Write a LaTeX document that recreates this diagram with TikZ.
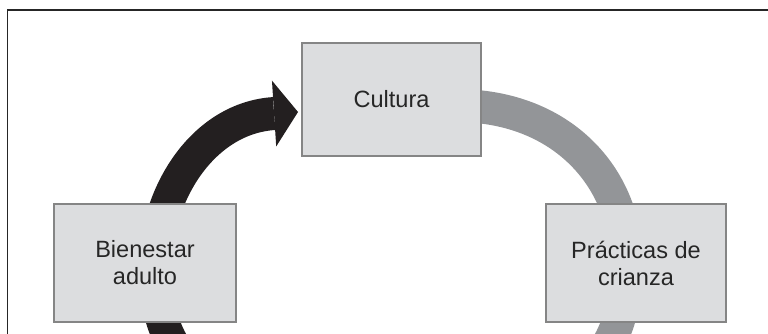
\documentclass[tikz,border=0pt]{standalone}
\usepackage{fontspec}
\setmainfont{Liberation Sans}
\usetikzlibrary{calc,arrows.meta,backgrounds}
\definecolor{boxfill}{HTML}{DCDDDF}
\definecolor{boxline}{HTML}{858585}
\definecolor{darkarc}{HTML}{231F20}
\definecolor{greyarc}{HTML}{939598}
\tikzset{
	stage/.style={draw=boxline, line width=0.04cm, fill=boxfill, align=center, text=black!85, font=\fontsize{13.4}{15.4}\selectfont, inner sep=0pt},
	darkband/.style={draw=darkarc, line width=0.66cm},
	greyband/.style={draw=greyarc, line width=0.66cm},
}

\begin{document}
\begin{tikzpicture}[x=0.02cm, y=-0.02cm]
			%%%%% START %%%%%
			
			\useasboundingbox (0,0) rectangle (768,334);
			\clip (0,0) rectangle (768,334);
			\draw[line width=0.04cm, color=black!85] (7.5,10) rectangle (800,400);
			
			\node[stage, minimum width=3.58cm, minimum height=2.26cm] (cult) at (391.5,99.5) {Cultura};
			\node[stage, minimum width=3.66cm, minimum height=2.36cm] (bien) at (145,263) {Bienestar\\adulto};
			\node[stage, minimum width=3.6cm, minimum height=2.36cm] (prac) at (636,263) {Prácticas de\\crianza};
			
			\coordinate (dkin) at (178,352);
			\coordinate (grout) at (603,352);
			
			\begin{scope}[on background layer]
				\draw[darkband, -{Triangle[length=0.48cm,width=1.32cm,line width=0pt]}] (dkin) .. controls (162,330) and (155,300) .. ($(bien.center)+(10,2)$) .. controls (157,190) and (205,118) .. ($(cult.west)+(-3,12.5)$);
				\draw[greyband] ($(cult.east)+(-12,6.5)$) .. controls (570,112) and (628,185) .. ($(prac.center)+(-10,2)$) .. controls (626,300) and (619,330) .. (grout);
			\end{scope}
			
			%%%%% END %%%%%
\end{tikzpicture}
\end{document}
